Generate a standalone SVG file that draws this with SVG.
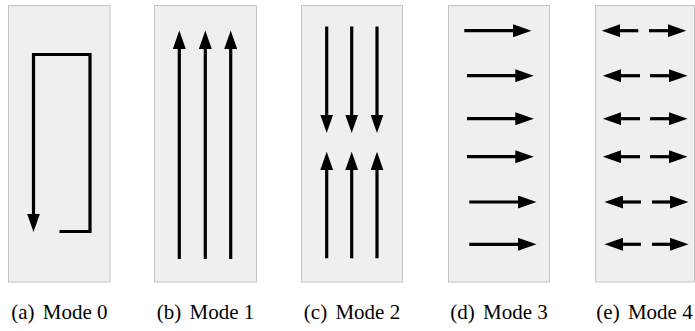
<svg xmlns="http://www.w3.org/2000/svg" width="695" height="331" viewBox="0 0 695 331">
<style>
.panel{fill:#efefef;stroke:#c4c4c4;stroke-width:1}
.arr{fill:none;stroke:#000;stroke-width:3.2;marker-end:url(#ah)}
.lbl{font-family:"Liberation Serif","Times New Roman",serif;font-size:21px;fill:#000;text-anchor:middle}
</style>
<defs>
<marker id="ah" markerUnits="userSpaceOnUse" markerWidth="19" markerHeight="13" refX="10" refY="6.5" orient="auto">
<path d="M0,0 L18.5,6.5 L0,13 z" fill="#000"/>
</marker>
</defs>
<g id="panel-a">
<rect class="panel" x="8.5" y="5.5" width="101.5" height="276.5"/>
<text class="lbl" x="59.3" y="319">(a) <tspan dx="3">Mode 0</tspan></text>
</g>
<g id="panel-b">
<rect class="panel" x="154.5" y="5.5" width="102" height="276.5"/>
<text class="lbl" x="205.5" y="319">(b) <tspan dx="3">Mode 1</tspan></text>
</g>
<g id="panel-c">
<rect class="panel" x="301.5" y="5.5" width="101" height="276.5"/>
<text class="lbl" x="352" y="319">(c) <tspan dx="3">Mode 2</tspan></text>
</g>
<g id="panel-d">
<rect class="panel" x="448.5" y="5.5" width="101" height="276.5"/>
<text class="lbl" x="499" y="319">(d) <tspan dx="3">Mode 3</tspan></text>
</g>
<g id="panel-e">
<rect class="panel" x="595.5" y="5.5" width="99" height="276.5"/>
<text class="lbl" x="644.5" y="319">(e) <tspan dx="3">Mode 4</tspan></text>
</g>
<g id="connectors">
<path class="arr" d="M59.5,231.5 H90 V54.5 H33.5 V223.5"/>
<path class="arr" d="M179.3,259 V39"/>
<path class="arr" d="M205.3,259 V39"/>
<path class="arr" d="M230.7,259 V39"/>
<path class="arr" d="M326.7,26.5 V124.5"/>
<path class="arr" d="M351.7,26.5 V124.5"/>
<path class="arr" d="M377,26.5 V124.5"/>
<path class="arr" d="M326.7,258.3 V160.3"/>
<path class="arr" d="M351.7,258.3 V160.3"/>
<path class="arr" d="M377,258.3 V160.3"/>
<path class="arr" d="M464.3,30.7 H523"/>
<path class="arr" d="M467,75.7 H525.3"/>
<path class="arr" d="M467,118.7 H525.3"/>
<path class="arr" d="M467,156.7 H525.3"/>
<path class="arr" d="M469.3,202 H528"/>
<path class="arr" d="M469.3,244.3 H528"/>
<path class="arr" d="M638.3,30.7 H610.3"/>
<path class="arr" d="M649,30.7 H677.7"/>
<path class="arr" d="M640,75.7 H611.3"/>
<path class="arr" d="M650,75.7 H679"/>
<path class="arr" d="M640,118.7 H611.3"/>
<path class="arr" d="M650,118.7 H679"/>
<path class="arr" d="M640,156.7 H611.3"/>
<path class="arr" d="M650,156.7 H679"/>
<path class="arr" d="M641,202 H613"/>
<path class="arr" d="M652,202 H680"/>
<path class="arr" d="M641,244.3 H613"/>
<path class="arr" d="M652,244.3 H680"/>
</g>
</svg>
